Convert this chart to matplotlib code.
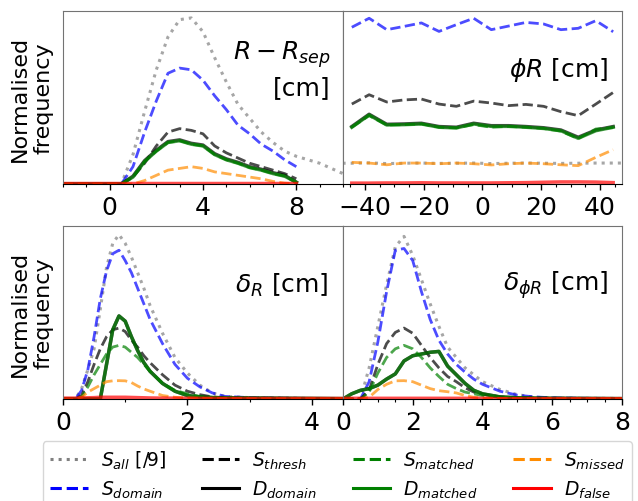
import numpy as np
import matplotlib
matplotlib.use("Agg")
import matplotlib.pyplot as plt
from matplotlib.lines import Line2D
from matplotlib.ticker import MultipleLocator

nan = np.nan

# R - R_sep panel
tl_x = [-2, 0, 0.5, 1, 1.5, 2, 2.5, 3, 3.5, 4, 4.5, 5, 5.5, 6, 6.5, 7, 7.5, 8, 8.5, 9, 9.5, 10]
tl_all = [0, 0, 0, 0.17, 0.42, 0.66, 0.85, 0.95, 0.96, 0.88, 0.73, 0.59, 0.46, 0.38, 0.30, 0.24, 0.19, 0.16, 0.14, 0.12, 0.09, 0.06]
tl_sdomain = [0, 0, 0, 0.10, 0.30, 0.48, 0.64, 0.67, 0.66, 0.60, 0.51, 0.43, 0.34, 0.29, 0.23, 0.19, 0.14, 0.10, nan, nan, nan, nan]
tl_thresh = [0, 0, 0, 0.04, 0.12, 0.22, 0.30, 0.32, 0.31, 0.29, 0.22, 0.18, 0.15, 0.12, 0.10, 0.08, 0.06, 0.03, nan, nan, nan, nan]
tl_ddomain = [0, 0, 0, 0.045, 0.135, 0.195, 0.245, 0.255, 0.235, 0.225, 0.175, 0.145, 0.125, 0.10, 0.085, 0.065, 0.05, 0.01, nan, nan, nan, nan]
tl_smatched = [0, 0, 0, 0.04, 0.13, 0.19, 0.24, 0.25, 0.23, 0.22, 0.17, 0.14, 0.12, 0.095, 0.08, 0.06, 0.045, 0.01, nan, nan, nan, nan]
tl_dmatched = [0, 0, 0, 0.04, 0.13, 0.19, 0.24, 0.25, 0.23, 0.22, 0.17, 0.14, 0.12, 0.095, 0.08, 0.06, 0.045, 0.01, nan, nan, nan, nan]
tl_missed = [0, 0, 0, 0, 0.02, 0.05, 0.08, 0.09, 0.10, 0.09, 0.07, 0.06, 0.05, 0.04, 0.03, 0.015, 0.005, 0, nan, nan, nan, nan]
tl_false = [0.005] * 18 + [nan] * 4

# phi R panel
tr_x = [-50.4, -44.5, -38.6, -32.6, -26.7, -20.8, -14.8, -8.9, -3.0, 3.0, 8.9, 14.8, 20.8, 26.7, 32.6, 38.6, 44.5, 50.4]
tr_all = [0.12, 0.12, 0.122, 0.118, 0.12, 0.121, 0.119, 0.12, 0.121, 0.118, 0.12, 0.121, 0.12, 0.119, 0.12, 0.121, 0.121, 0.121]
tr_sdomain = [nan, 0.906, 0.958, 0.892, 0.911, 0.931, 0.882, 0.921, 0.958, 0.892, 0.913, 0.934, 0.925, 0.892, 0.900, 0.944, 0.880, nan]
tr_thresh = [nan, 0.462, 0.516, 0.474, 0.486, 0.491, 0.462, 0.449, 0.479, 0.468, 0.453, 0.460, 0.449, 0.418, 0.395, 0.462, 0.529, nan]
tr_ddomain = [nan, 0.332, 0.403, 0.345, 0.347, 0.351, 0.332, 0.328, 0.351, 0.337, 0.337, 0.332, 0.325, 0.312, 0.270, 0.312, 0.332, nan]
tr_smatched = [nan, 0.328, 0.395, 0.341, 0.343, 0.347, 0.328, 0.324, 0.343, 0.328, 0.333, 0.328, 0.321, 0.305, 0.262, 0.318, 0.326, nan]
tr_dmatched = [nan, 0.328, 0.399, 0.341, 0.343, 0.347, 0.328, 0.324, 0.347, 0.333, 0.333, 0.328, 0.321, 0.308, 0.264, 0.308, 0.328, nan]
tr_missed = [nan, 0.125, 0.121, 0.111, 0.121, 0.121, 0.117, 0.121, 0.117, 0.110, 0.117, 0.121, 0.117, 0.111, 0.106, 0.154, 0.198, nan]
tr_false = [nan, 0.005, 0.005, 0.006, 0.006, 0.007, 0.006, 0.006, 0.006, 0.006, 0.007, 0.008, 0.010, 0.012, 0.012, 0.011, 0.008, nan]

# delta_R panel
bl_x = [0, 0.2, 0.3, 0.4, 0.5, 0.6, 0.7, 0.8, 0.9, 1.0, 1.1, 1.2, 1.3, 1.4, 1.6, 1.8, 2.0, 2.2, 2.4, 2.6, 3.0, 3.5, 4.0, 4.5]
bl_all = [0, 0, 0.06, 0.17, 0.29, 0.52, 0.76, 0.90, 0.95, 0.90, 0.82, 0.73, 0.64, 0.54, 0.38, 0.24, 0.15, 0.08, 0.035, 0.015, 0.008, 0.005, 0.003, 0.002]
bl_sdomain = [0, 0, 0.05, 0.17, 0.36, 0.58, 0.74, 0.84, 0.86, 0.80, 0.73, 0.64, 0.55, 0.46, 0.32, 0.20, 0.12, 0.07, 0.035, 0.015, 0.008, 0.005, 0.003, 0.002]
bl_thresh = [0, 0, 0.02, 0.10, 0.20, 0.29, 0.36, 0.40, 0.41, 0.39, 0.34, 0.30, 0.25, 0.21, 0.14, 0.08, 0.045, 0.025, 0.012, 0.008, 0.005, 0.004, 0.003, 0.002]
bl_ddomain = [0, 0, 0, 0, 0, 0, 0.20, 0.40, 0.48, 0.45, 0.36, 0.28, 0.21, 0.16, 0.09, 0.045, 0.02, 0.012, 0.008, 0.006, 0.005, 0.004, 0.003, 0.002]
bl_smatched = [0, 0, 0.01, 0.07, 0.14, 0.20, 0.26, 0.30, 0.31, 0.30, 0.27, 0.24, 0.20, 0.16, 0.09, 0.05, 0.03, 0.015, 0.01, 0.007, 0.005, 0.004, 0.003, 0.002]
bl_dmatched = [0, 0, 0, 0, 0, 0, 0.20, 0.40, 0.48, 0.45, 0.36, 0.28, 0.21, 0.16, 0.09, 0.045, 0.02, 0.012, 0.008, 0.006, 0.005, 0.004, 0.003, 0.002]
bl_missed = [0, 0, 0.01, 0.04, 0.06, 0.08, 0.10, 0.105, 0.106, 0.105, 0.095, 0.075, 0.058, 0.045, 0.02, 0.01, 0.006, 0.004, 0.003, 0.003, 0.002, 0.002, 0.002, 0.002]
bl_false = [0.005, 0.005, 0.006, 0.007, 0.008, 0.01, 0.01, 0.01, 0.01, 0.01, 0.009, 0.008, 0.007, 0.006, 0.005, 0.005, 0.004, 0.004, 0.004, 0.003, 0.003, 0.003, 0.003, 0.003]

# delta_phiR panel
br_x = [0, 0.25, 0.5, 0.75, 1.0, 1.25, 1.5, 1.75, 2.0, 2.25, 2.5, 2.75, 3.0, 3.25, 3.5, 3.75, 4.0, 4.5, 5.0, 5.5, 6.0, 7.0, 8.0]
br_all = [0, 0, 0, 0.18, 0.42, 0.66, 0.88, 0.94, 0.83, 0.69, 0.55, 0.42, 0.30, 0.24, 0.18, 0.14, 0.10, 0.055, 0.025, 0.01, 0.006, 0.004, 0.003]
br_sdomain = [0, 0, 0, 0.10, 0.33, 0.62, 0.86, 0.87, 0.80, 0.62, 0.46, 0.34, 0.26, 0.20, 0.155, 0.115, 0.085, 0.045, 0.022, 0.012, 0.007, 0.004, 0.003]
br_thresh = [0, 0, 0, 0.05, 0.20, 0.32, 0.385, 0.41, 0.38, 0.31, 0.24, 0.18, 0.13, 0.10, 0.065, 0.04, 0.028, 0.012, 0.007, 0.005, 0.004, 0.003, 0.002]
br_ddomain = [0, 0.03, 0.05, 0.06, 0.08, 0.115, 0.145, 0.22, 0.25, 0.26, 0.27, 0.275, 0.19, 0.14, 0.09, 0.05, 0.03, 0.012, 0.007, 0.005, 0.004, 0.003, 0.002]
br_smatched = [0, 0, 0, 0.04, 0.15, 0.24, 0.29, 0.31, 0.29, 0.24, 0.18, 0.13, 0.085, 0.06, 0.04, 0.03, 0.02, 0.01, 0.006, 0.004, 0.003, 0.003, 0.002]
br_dmatched = [0, 0.03, 0.05, 0.06, 0.08, 0.115, 0.145, 0.22, 0.25, 0.26, 0.27, 0.275, 0.19, 0.14, 0.09, 0.05, 0.03, 0.012, 0.007, 0.005, 0.004, 0.003, 0.002]
br_missed = [0, 0, 0, 0.01, 0.055, 0.085, 0.105, 0.106, 0.10, 0.08, 0.06, 0.048, 0.042, 0.035, 0.02, 0.01, 0.005, 0.003, 0.002, 0.002, 0.002, 0.002, 0.002]
br_false = [0.004] * 17 + [0.002] * 6

labels = [r"$S_{all}$ [/9]", r"$S_{domain}$", r"$S_{thresh}$", r"$D_{domain}$",
          r"$S_{matched}$", r"$D_{matched}$", r"$S_{missed}$", r"$D_{false}$"]

# colour, linestyle, linewidth for each series (legend order)
styles = [("grey", ":", 2.2), ("blue", "--", 2.0), ("black", "--", 2.0), ("black", "-", 2.5),
          ("green", "--", 2.0), ("green", "-", 2.5), ("darkorange", "--", 2.0), ("red", "-", 2.5)]

panels = [
    (tl_x, [tl_all, tl_sdomain, tl_thresh, tl_ddomain, tl_smatched, tl_dmatched, tl_missed, tl_false],
     (-2, 10), 4, 1, "$R-R_{sep}$\n[cm]"),
    (tr_x, [tr_all, tr_sdomain, tr_thresh, tr_ddomain, tr_smatched, tr_dmatched, tr_missed, tr_false],
     (-47.5, 47.5), 20, 5, r"$\phi R$ [cm]"),
    (bl_x, [bl_all, bl_sdomain, bl_thresh, bl_ddomain, bl_smatched, bl_dmatched, bl_missed, bl_false],
     (0, 4.5), 2, 1, r"$\delta_R$ [cm]"),
    (br_x, [br_all, br_sdomain, br_thresh, br_ddomain, br_smatched, br_dmatched, br_missed, br_false],
     (0, 8), 2, 0.5, r"$\delta_{\phi R}$ [cm]"),
]

rects = [[0.0987, 0.6315, 0.4389, 0.3446], [0.5376, 0.6315, 0.4373, 0.3446],
         [0.0987, 0.2032, 0.4389, 0.3446], [0.5376, 0.2032, 0.4373, 0.3446]]

fig = plt.figure(figsize=(6.38, 5.02), dpi=100)

for i, (x, series, xlim, major, minor, title) in enumerate(panels):
    ax = fig.add_axes(rects[i])
    for ys, (col, ls, lw) in zip(series, styles):
        ax.plot(x, np.array(ys, dtype=float), color=col, ls=ls, lw=lw, alpha=0.7)
    ax.set_xlim(*xlim)
    ax.set_ylim(0, 1)
    ax.set_yticks([])
    ax.xaxis.set_major_locator(MultipleLocator(major))
    ax.xaxis.set_minor_locator(MultipleLocator(minor))
    ax.tick_params(axis="x", which="major", labelsize=18, length=4.5, width=1)
    ax.tick_params(axis="x", which="minor", length=2.5, width=0.8)
    for side in ["left", "top", "right"]:
        ax.spines[side].set_color("0.45")
    if i % 2 == 0:
        ax.spines["right"].set_color("black")
        ax.set_ylabel("Normalised\nfrequency", fontsize=16, labelpad=7)
    if i == 0:
        ax.text(0.955, 0.84, title, transform=ax.transAxes, ha="right", va="top",
                fontsize=18, multialignment="right", linespacing=1.3)
    else:
        ax.text(0.95, 0.665, title, transform=ax.transAxes, ha="right", va="center",
                fontsize=18)

handles = [Line2D([], [], color=c, ls=ls, lw=2.2) for c, ls, _ in styles]
fig.legend(handles, labels, ncol=4, loc="upper left", bbox_to_anchor=(0.067, 0.12),
           fontsize=13.5, handlelength=2.0, handletextpad=0.7, columnspacing=1.9,
           labelspacing=0.45, borderaxespad=0)

fig.savefig("out.png", dpi=100)
